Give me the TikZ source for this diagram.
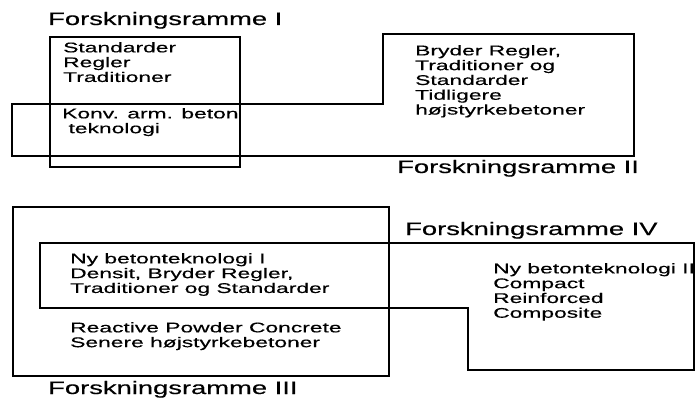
\documentclass[tikz,border=0pt]{standalone}
\usepackage{fontspec}
\setmainfont{Liberation Sans}
\newfontfamily\rammefont{Liberation Sans}[FakeStretch=1.52, FakeBold=0.4]
\newfontfamily\boksfont{Liberation Sans}[FakeStretch=1.63, FakeBold=0.4]
\usetikzlibrary{positioning}

\begin{document}
\begin{tikzpicture}[
        x=1pt, y=-1pt,
        ramme/.style={
            draw=black,
            line width=2.8pt,
            line join=miter
        },
        titel/.style={
            font=\rammefont\fontsize{18}{20}\selectfont,
            inner sep=0pt,
            anchor=base west
        },
        tekst/.style={
            font=\boksfont\fontsize{14}{14.8}\selectfont,
            inner sep=0pt,
            align=left,
            anchor=north west
        }
    ]
        \useasboundingbox (0,0) rectangle (698,398);

        % Rammer
        \draw [ramme] (50,37) rectangle (240,167);
        \draw [ramme] (12,104) -- (383,104) -- (383,34) -- (634,34) -- (634,156) -- (12,156) -- cycle;
        \draw [ramme] (13,207) rectangle (389,376);
        \draw [ramme] (40,243) -- (694,243) -- (694,370) -- (468,370) -- (468,308) -- (40,308) -- cycle;

        % Titler
        \node [titel] (r1) at (48,25) {Forskningsramme I};
        \node [titel] (r2) at (397,173) {Forskningsramme II};
        \node [titel] (r3) at (48,394) {Forskningsramme III};
        \node [titel] (r4) at (405,235) {Forskningsramme IV};

        % Tekster
        \node [tekst] (std) at (63,42) {Standarder\\Regler\\Traditioner};
        \node [tekst] (konv) at (62,108) {Konv. arm. beton\\\mbox{ }teknologi};
        \node [tekst] (bryder) at (415,45) {Bryder Regler,\\Traditioner og\\Standarder\\Tidligere\\højstyrkebetoner};
        \node [tekst] (ny1) at (70,253) {Ny betonteknologi I\\Densit, Bryder Regler,\\Traditioner og Standarder};
        \node [tekst] (rpc) at (70,322) {Reactive Powder Concrete\\Senere højstyrkebetoner};
        \node [tekst] (ny2) at (493,263) {Ny betonteknologi II\\Compact\\Reinforced\\Composite};

    \end{tikzpicture}
\end{document}
